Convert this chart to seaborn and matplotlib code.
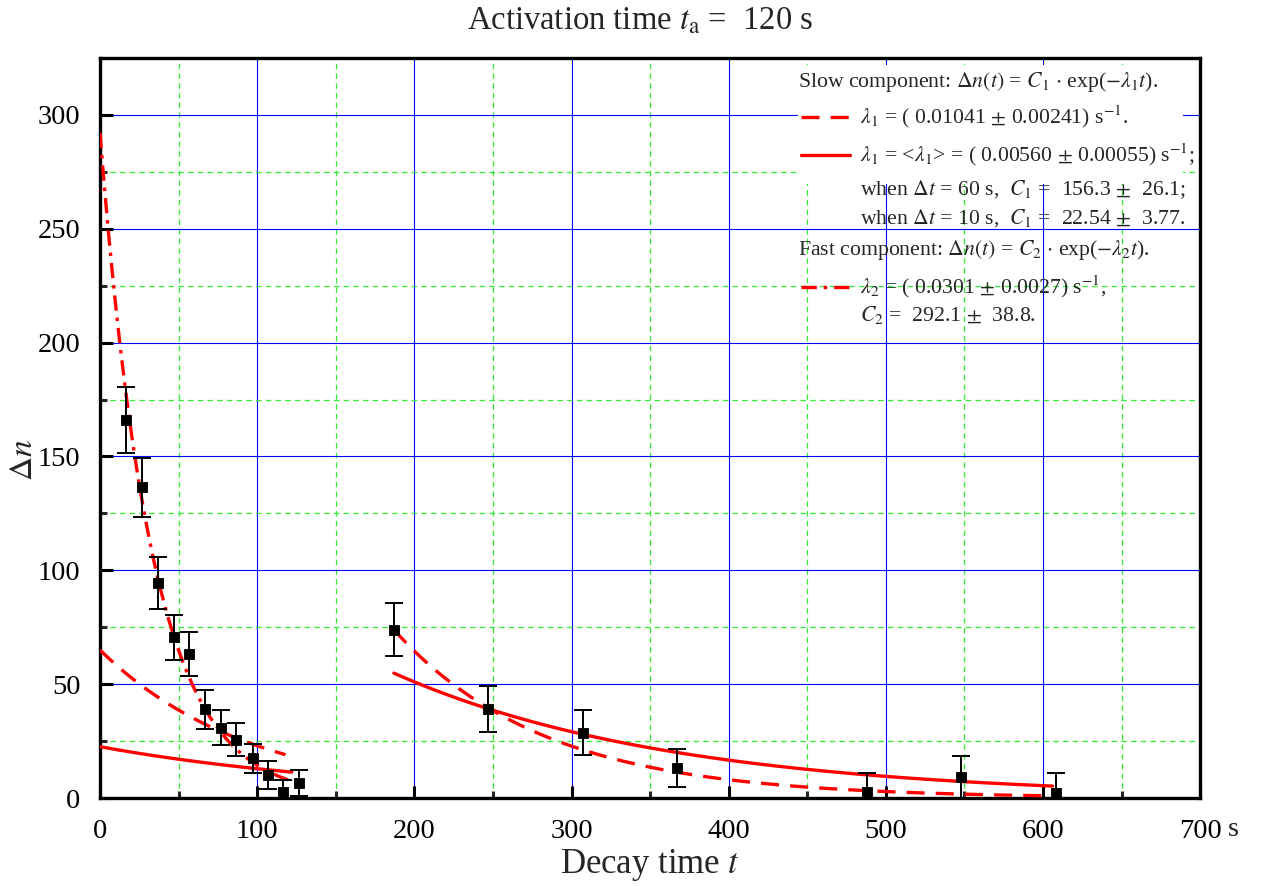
import numpy as np
import pandas as pd
import matplotlib
matplotlib.use("Agg")
import matplotlib.pyplot as plt
from matplotlib.patches import Rectangle
from matplotlib.ticker import MultipleLocator
import seaborn as sns

# measured points (decay time, counts, error)
t_early = [16.4, 26.6, 36.6, 46.8, 56.6, 66.8, 77.0, 86.5, 97.1, 106.9, 116.5, 126.9]
n_early = [165.9, 136.5, 94.4, 70.5, 63.2, 39.0, 30.9, 25.6, 17.4, 10.1, 2.5, 6.5]
e_early = [14.5, 13.0, 11.5, 9.7, 9.7, 8.5, 7.8, 7.2, 6.3, 6.0, 5.5, 5.8]

t_late = [187.0, 247.0, 307.4, 367.3, 487.9, 548.0, 608.0]
n_late = [73.9, 39.0, 28.7, 13.2, 2.8, 9.4, 2.3]
e_late = [11.7, 10.0, 10.0, 8.5, 8.0, 9.2, 8.5]

# fit parameters (from the legend) and the visible start amplitudes
lam1_fit = 0.01041
lam1_avg = 0.00560
C1_dt60 = 156.3
C1_dt10 = 22.54
lam2 = 0.0301
C2 = 292.1
dash_amp_early = 65.0      # dashed curve value at t = 0
dash_amp_late = 73.9       # dashed curve value at t = 187

x_ticks = [0, 100, 200, 300, 400, 500, 600, 700]
x_tick_labels = ["0", "100", "200", "300", "400", "500", "600", "700"]
y_ticks = [0, 50, 100, 150, 200, 250, 300]

sns.set_theme(style="white")
plt.rcParams["font.family"] = ["Liberation Serif", "DejaVu Serif"]
plt.rcParams["mathtext.fontset"] = "stix"
plt.rcParams["lines.scale_dashes"] = False

fig = plt.figure(figsize=(12.66, 8.86), dpi=100)
ax = fig.add_axes([0.079, 0.0993, 0.869, 0.8352])

RED = "#ff0000"
lw = 2.4
dash = (0, (13, 8))
dashdot = (0, (11, 5, 2.5, 5))

# fit curves
t_a = np.linspace(0, 127, 200)
t_b = np.linspace(0, 118, 200)
t_c = np.linspace(0, 122, 200)
t_d = np.linspace(187, 606, 300)

fast = pd.DataFrame({"t": t_a, "n": C2 * np.exp(-lam2 * t_a)})
slow_fit_early = pd.DataFrame({"t": t_b, "n": dash_amp_early * np.exp(-lam1_fit * t_b)})
slow_fit_late = pd.DataFrame({"t": t_d, "n": dash_amp_late * np.exp(-lam1_fit * (t_d - 187))})
slow_avg_early = pd.DataFrame({"t": t_c, "n": C1_dt10 * np.exp(-lam1_avg * t_c)})
slow_avg_late = pd.DataFrame({"t": t_d, "n": C1_dt60 * np.exp(-lam1_avg * t_d)})

sns.lineplot(data=fast, x="t", y="n", ax=ax, color=RED, lw=lw, linestyle=dashdot, zorder=3)
sns.lineplot(data=slow_fit_early, x="t", y="n", ax=ax, color=RED, lw=lw, linestyle=dash, zorder=3)
sns.lineplot(data=slow_fit_late, x="t", y="n", ax=ax, color=RED, lw=lw, linestyle=dash, zorder=3)
sns.lineplot(data=slow_avg_early, x="t", y="n", ax=ax, color=RED, lw=lw, zorder=3)
sns.lineplot(data=slow_avg_late, x="t", y="n", ax=ax, color=RED, lw=lw, zorder=3)

# data points with error bars
t_all = t_early + t_late
n_all = n_early + n_late
e_all = e_early + e_late
ax.errorbar(t_all, n_all, yerr=e_all, fmt="none", ecolor="black",
            elinewidth=1.4, capsize=6.5, capthick=1.4, zorder=4)
sns.scatterplot(x=t_all, y=n_all, ax=ax, marker="s", s=60, color="black",
                edgecolor="black", zorder=5)

ax.set_xlim(0, 700)
ax.set_ylim(0, 325)
ax.xaxis.set_major_locator(MultipleLocator(100))
ax.xaxis.set_minor_locator(MultipleLocator(50))
ax.yaxis.set_major_locator(MultipleLocator(50))
ax.yaxis.set_minor_locator(MultipleLocator(25))
ax.set_xticks(x_ticks)
ax.set_xticklabels(x_tick_labels)
ax.set_yticks(y_ticks)

ax.set_axisbelow(True)
ax.grid(which="major", color="#0000ff", lw=0.8, ls="-")
ax.grid(which="minor", color="#33ee33", lw=0.9, ls=(0, (4, 3)))

for sp in ax.spines.values():
    sp.set_color("black")
    sp.set_linewidth(2.4)

ax.tick_params(axis="both", which="major", direction="in", length=9, width=2.2,
               labelsize=20.5, colors="black")
ax.tick_params(axis="x", which="major", pad=15)
ax.tick_params(axis="y", which="major", pad=14)
ax.tick_params(axis="both", which="minor", direction="in", length=5, width=2.2)
ax.tick_params(bottom=True, left=True, top=False, right=False)
ax.tick_params(which="minor", bottom=True, left=True, top=False, right=False)

ax.set_xlabel(r"Decay time $t$", fontsize=25, labelpad=2)
ax.set_ylabel("")
fig.text(0.019, 0.481, r"$\Delta n$", fontsize=24, rotation=90, ha="center", va="center")
fig.text(0.506, 0.976, r"Activation time $t_{\mathrm{a}}$ =  120 s", fontsize=23.5,
         ha="center", va="center")
ax.text(1.03, -0.0425, "s", transform=ax.transAxes, fontsize=20.5, ha="center", va="center")

# legend block (drawn by hand to match the layout)
ax.add_patch(Rectangle((0.634, 0.83), 0.35, 0.16, transform=ax.transAxes,
                       facecolor="white", edgecolor="none", zorder=1))
fs = 15.7
tx = 0.691
ax.text(0.634, 0.9676, r"Slow component: $\Delta n(t)$ = $C_1$ $\cdot$ exp($-\lambda_1 t$).",
        transform=ax.transAxes, fontsize=fs, va="center", zorder=6)
ax.plot([0.637, 0.682], [0.920, 0.920], transform=ax.transAxes, color=RED, lw=lw,
        linestyle=dash, clip_on=False, zorder=6)
ax.text(tx, 0.920, r"$\lambda_1$ = ( 0.01041 $\pm$ 0.00241) s$^{-1}$.",
        transform=ax.transAxes, fontsize=fs, va="center", zorder=6)
ax.plot([0.637, 0.682], [0.869, 0.869], transform=ax.transAxes, color=RED, lw=lw,
        clip_on=False, zorder=6)
ax.text(tx, 0.869, r"$\lambda_1$ = <$\lambda_1$> = ( 0.00560 $\pm$ 0.00055) s$^{-1}$;",
        transform=ax.transAxes, fontsize=fs, va="center", zorder=6)
ax.text(tx, 0.8216, r"when $\Delta t$ = 60 s,  $C_1$ =  156.3 $\pm$  26.1;",
        transform=ax.transAxes, fontsize=fs, va="center", zorder=6)
ax.text(tx, 0.7838, r"when $\Delta t$ = 10 s,  $C_1$ =  22.54 $\pm$  3.77.",
        transform=ax.transAxes, fontsize=fs, va="center", zorder=6)
ax.text(0.634, 0.7405, r"Fast component: $\Delta n(t)$ = $C_2$ $\cdot$ exp($-\lambda_2 t$).",
        transform=ax.transAxes, fontsize=fs, va="center", zorder=6)
ax.plot([0.637, 0.682], [0.6905, 0.6905], transform=ax.transAxes, color=RED, lw=lw,
        linestyle=dashdot, clip_on=False, zorder=6)
ax.text(tx, 0.6905, r"$\lambda_2$ = ( 0.0301 $\pm$ 0.0027) s$^{-1}$,",
        transform=ax.transAxes, fontsize=fs, va="center", zorder=6)
ax.text(tx, 0.6527, r"$C_2$ =  292.1 $\pm$  38.8.",
        transform=ax.transAxes, fontsize=fs, va="center", zorder=6)

fig.savefig("out.png", dpi=100)
